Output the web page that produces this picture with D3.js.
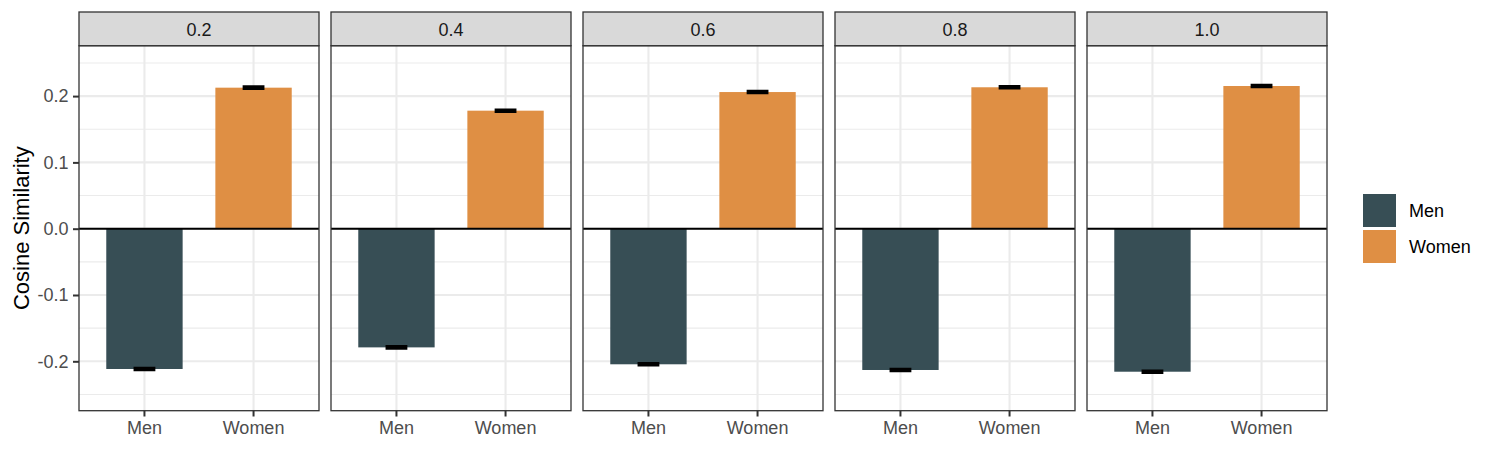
<!DOCTYPE html>
<html>
<head>
<meta charset="utf-8">
<script src="https://cdn.jsdelivr.net/npm/d3@7"></script>
<style>
	body { margin: 0; background: #fff; }
	text { font-family: "Liberation Sans", Arial, sans-serif; }
</style>
</head>
<body>
<div id="chart"></div>
<script>
(function() {
	var facets = ['0.2', '0.4', '0.6', '0.8', '1.0'];
	var groups = ['Men', 'Women'];
	var menValues = [-0.2116, -0.1790, -0.2045, -0.2131, -0.2157];
	var womenValues = [0.2127, 0.1780, 0.2061, 0.2133, 0.2152];
	var menSE = [0.0012, 0.0012, 0.0012, 0.0012, 0.0012];
	var womenSE = [0.0012, 0.0012, 0.0012, 0.0012, 0.0012];
	var yTicks = [-0.2, -0.1, 0.0, 0.1, 0.2];
	var yMinor = [-0.25, -0.15, -0.05, 0.05, 0.15, 0.25];
	var colors = {'Men': '#374E55', 'Women': '#DF8F44'};

	var svgwidth = 1495;
	var svgheight = 449;
	var stripTop = 12;
	var plotTop = 45.7;
	var plotBottom = 410.7;

	var rows = [];
	facets.forEach(function(f, i){
		rows.push({facet: f, group: 'Men', value: menValues[i], se: menSE[i]});
		rows.push({facet: f, group: 'Women', value: womenValues[i], se: womenSE[i]});
	});

	var svg = d3.select('#chart')
				.append('svg')
				.attr('width', svgwidth)
				.attr('height', svgheight);

	var fx = d3.scaleBand()
				.domain(facets)
				.range([79, 1327])
				.paddingInner(12 / 252)
				.paddingOuter(0);

	var x = d3.scaleBand()
				.domain(groups)
				.range([0, fx.bandwidth()])
				.paddingInner(0.3)
				.paddingOuter(0.25);

	var y = d3.scaleLinear()
				.domain([-0.2745, 0.276])
				.range([plotBottom, plotTop]);

	var panels = svg.selectAll('g.panel')
					.data(facets)
					.enter()
					.append('g')
					.attr('class', 'panel')
					.attr('transform', function(d){
						return 'translate(' + fx(d) + ',0)';
					});

	// minor grid
	panels.selectAll('line.minor')
		.data(yMinor)
		.enter()
		.append('line')
		.attr('x1', 0)
		.attr('x2', fx.bandwidth())
		.attr('y1', function(d){ return y(d); })
		.attr('y2', function(d){ return y(d); })
		.attr('stroke', '#EBEBEB')
		.attr('stroke-width', 1.1);

	// major grid
	panels.selectAll('line.major')
		.data(yTicks)
		.enter()
		.append('line')
		.attr('x1', 0)
		.attr('x2', fx.bandwidth())
		.attr('y1', function(d){ return y(d); })
		.attr('y2', function(d){ return y(d); })
		.attr('stroke', '#EBEBEB')
		.attr('stroke-width', 2.1);

	panels.selectAll('line.vmajor')
		.data(groups)
		.enter()
		.append('line')
		.attr('x1', function(d){ return x(d) + x.bandwidth() / 2; })
		.attr('x2', function(d){ return x(d) + x.bandwidth() / 2; })
		.attr('y1', plotTop)
		.attr('y2', plotBottom)
		.attr('stroke', '#EBEBEB')
		.attr('stroke-width', 2.1);

	// bars
	panels.selectAll('rect.bar')
		.data(function(f){ return rows.filter(function(r){ return r.facet === f; }); })
		.enter()
		.append('rect')
		.attr('class', 'bar')
		.attr('x', function(d){ return x(d.group); })
		.attr('width', x.bandwidth())
		.attr('y', function(d){ return y(Math.max(0, d.value)); })
		.attr('height', function(d){ return Math.abs(y(d.value) - y(0)); })
		.attr('fill', function(d){ return colors[d.group]; });

	// zero line
	panels.append('line')
		.attr('x1', 0)
		.attr('x2', fx.bandwidth())
		.attr('y1', y(0))
		.attr('y2', y(0))
		.attr('stroke', '#000')
		.attr('stroke-width', 2);

	// error bars
	var ebw = x.step() * 0.2;
	panels.selectAll('path.err')
		.data(function(f){ return rows.filter(function(r){ return r.facet === f; }); })
		.enter()
		.append('path')
		.attr('d', function(d){
			var cx = x(d.group) + x.bandwidth() / 2;
			var y1 = y(d.value + d.se), y2 = y(d.value - d.se);
			return 'M' + (cx - ebw / 2) + ',' + y1 + 'H' + (cx + ebw / 2) +
				'M' + cx + ',' + y1 + 'V' + y2 +
				'M' + (cx - ebw / 2) + ',' + y2 + 'H' + (cx + ebw / 2);
		})
		.attr('fill', 'none')
		.attr('stroke', '#000')
		.attr('stroke-width', 3);

	// panel border
	panels.append('rect')
		.attr('x', 0)
		.attr('y', plotTop)
		.attr('width', fx.bandwidth())
		.attr('height', plotBottom - plotTop)
		.attr('fill', 'none')
		.attr('stroke', '#333333')
		.attr('stroke-width', 1.3);

	// strips
	panels.append('rect')
		.attr('x', 0)
		.attr('y', stripTop)
		.attr('width', fx.bandwidth())
		.attr('height', plotTop - stripTop)
		.attr('fill', '#D9D9D9')
		.attr('stroke', '#333333')
		.attr('stroke-width', 1.3);

	panels.append('text')
		.attr('x', fx.bandwidth() / 2)
		.attr('y', 35.5)
		.attr('text-anchor', 'middle')
		.attr('font-size', 18)
		.attr('fill', '#1A1A1A')
		.text(function(d){ return d; });

	// x axes
	panels.each(function(){
		var g = d3.select(this).append('g')
					.attr('transform', 'translate(0,' + plotBottom + ')')
					.call(d3.axisBottom(x).tickSize(5.8).tickPadding(5));
		g.select('.domain').remove();
		g.selectAll('line').attr('stroke', '#333333').attr('stroke-width', 2);
		g.selectAll('text').attr('font-size', 18).attr('fill', '#4D4D4D')
			.attr('font-family', '"Liberation Sans", Arial, sans-serif');
	});

	// y axis
	var ya = svg.append('g')
				.attr('transform', 'translate(79,0)')
				.call(d3.axisLeft(y)
					.tickValues(yTicks)
					.tickSize(6)
					.tickPadding(4.5)
					.tickFormat(function(d){ return d.toFixed(1); }));
	ya.select('.domain').remove();
	ya.selectAll('line').attr('stroke', '#333333').attr('stroke-width', 2);
	ya.selectAll('text').attr('font-size', 18).attr('fill', '#4D4D4D')
		.attr('font-family', '"Liberation Sans", Arial, sans-serif');

	svg.append('text')
		.attr('transform', 'translate(28.5,' + ((plotTop + plotBottom) / 2) + ') rotate(-90)')
		.attr('text-anchor', 'middle')
		.attr('font-size', 22)
		.attr('fill', '#000')
		.text('Cosine Similarity');

	// legend
	var legend = svg.selectAll('g.legend')
					.data(groups)
					.enter()
					.append('g')
					.attr('transform', function(d, i){
						return 'translate(1362.5,' + (193.5 + i * 36) + ')';
					});

	legend.append('rect')
		.attr('width', 34)
		.attr('height', 34)
		.attr('fill', function(d){ return colors[d]; })
		.attr('stroke', '#fff')
		.attr('stroke-width', 1);

	legend.append('text')
		.attr('x', 46.5)
		.attr('y', 17)
		.attr('dy', '0.36em')
		.attr('font-size', 18)
		.attr('fill', '#000')
		.text(function(d){ return d; });
})();
</script>
</body>
</html>
